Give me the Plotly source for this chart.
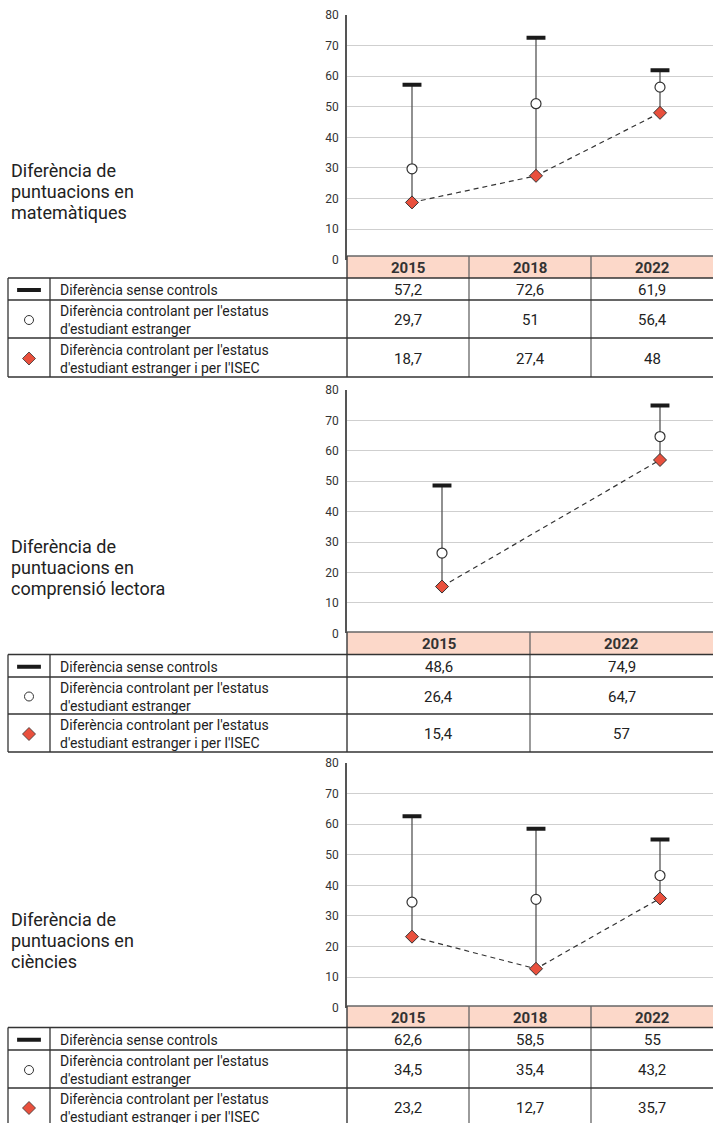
import plotly.graph_objects as go

W, H = 713, 1123

# ---------------- data ----------------
math_years = ["2015", "2018", "2022"]
math_no_controls = [57.2, 72.6, 61.9]
math_foreign = [29.7, 51, 56.4]
math_foreign_isec = [18.7, 27.4, 48]

read_years = ["2015", "2022"]
read_no_controls = [48.6, 74.9]
read_foreign = [26.4, 64.7]
read_foreign_isec = [15.4, 57]

sci_years = ["2015", "2018", "2022"]
sci_no_controls = [62.6, 58.5, 55]
sci_foreign = [34.5, 35.4, 43.2]
sci_foreign_isec = [23.2, 12.7, 35.7]

series_labels = [
    "Diferència sense controls",
    "Diferència controlant per l'estatus<br>d'estudiant estranger",
    "Diferència controlant per l'estatus<br>d'estudiant estranger i per l'ISEC",
]
panel_titles = [
    ["Diferència de", "puntuacions en", "matemàtiques"],
    ["Diferència de", "puntuacions en", "comprensió lectora"],
    ["Diferència de", "puntuacions en", "ciències"],
]
y_ticks = [0, 10, 20, 30, 40, 50, 60, 70, 80]

# ---------------- layout constants (pixels) ----------------
FONT = "Roboto, 'Open Sans', sans-serif"
RED = "#e9503d"
PINK = "#fcd8c9"
DARK = "#333333"
AX_L = 347      # left edge of the chart / value columns
TBL_L = 8       # left edge of table
SYM_R = 50      # right edge of symbol column
SYM_X = 29
LBL_X = 58

PANELS = [
    dict(years=math_years, vals=(math_no_controls, math_foreign, math_foreign_isec),
         y80=15, y0=259.6, head=(256, 278), rows=(278, 300, 338, 377),
         pts=(412, 660), title_y=(171, 192, 213), title=panel_titles[0]),
    dict(years=read_years, vals=(read_no_controls, read_foreign, read_foreign_isec),
         y80=390, y0=633.4, head=(632, 654.5), rows=(654.5, 677, 714, 752),
         pts=(442, 660), title_y=(546, 567, 588), title=panel_titles[1]),
    dict(years=sci_years, vals=(sci_no_controls, sci_foreign, sci_foreign_isec),
         y80=763, y0=1007.6, head=(1006, 1027.5), rows=(1027.5, 1050, 1088, 1126),
         pts=(412, 660), title_y=(919, 940, 961), title=panel_titles[2]),
]


def px(x):
    return x / W


def py(y):
    return 1 - y / H


def fmt(v):
    return f"{v:g}".replace(".", ",")


fig = go.Figure()
shapes = []
annotations = []

for i, p in enumerate(PANELS, start=1):
    xa = "x" if i == 1 else f"x{i}"
    ya = "y" if i == 1 else f"y{i}"
    years = p["years"]
    raw, foreign, isec = p["vals"]
    n = len(years)
    first, last = p["pts"]
    unit = (last - first) / (n - 1)
    xr = [(AX_L - first) / unit, (n - 1) + (W - last) / unit]

    # connectors from raw difference down to ISEC-controlled difference
    cx, cy = [], []
    for yr, a, b in zip(years, raw, isec):
        cx += [yr, yr, None]
        cy += [a, b, None]
    fig.add_trace(go.Scatter(x=cx, y=cy, mode="lines", xaxis=xa, yaxis=ya,
                             line=dict(color="#555555", width=1.3),
                             hoverinfo="skip", showlegend=False))
    fig.add_trace(go.Scatter(x=years, y=isec, mode="lines", xaxis=xa, yaxis=ya,
                             line=dict(color=DARK, width=1.2, dash="5px,4px"),
                             hoverinfo="skip", showlegend=False))
    fig.add_trace(go.Scatter(x=years, y=raw, mode="markers", xaxis=xa, yaxis=ya,
                             marker=dict(symbol="line-ew", size=13.5,
                                         line=dict(color="#1a1a1a", width=4)),
                             name=series_labels[0], showlegend=False))
    fig.add_trace(go.Scatter(x=years, y=foreign, mode="markers", xaxis=xa, yaxis=ya,
                             marker=dict(symbol="circle", size=10, color="white",
                                         line=dict(color=DARK, width=1.2)),
                             name=series_labels[1], showlegend=False))
    fig.add_trace(go.Scatter(x=years, y=isec, mode="markers", xaxis=xa, yaxis=ya,
                             marker=dict(symbol="diamond", size=10, color=RED,
                                         line=dict(color=DARK, width=1)),
                             name=series_labels[2], showlegend=False))

    fig.layout[f"xaxis{'' if i == 1 else i}"] = dict(
        type="category", categoryorder="array", categoryarray=years,
        range=xr, domain=[px(AX_L), 1], anchor=ya, visible=False, fixedrange=True,
        automargin=False)
    fig.layout[f"yaxis{'' if i == 1 else i}"] = dict(
        range=[0, 80], domain=[py(p["y0"]), py(p["y80"])], anchor=xa,
        tickvals=y_ticks, showgrid=True, gridcolor="#cfcfcf", gridwidth=1.3,
        zeroline=False, showline=True, linecolor="#555555", linewidth=1.5,
        ticks="", tickfont=dict(family=FONT, size=12, color="#333333"),
        ticklabelstandoff=4, fixedrange=True, automargin=False)

    # ---- table ----
    h0, h1 = p["head"]
    r = p["rows"]
    colw = (W - AX_L) / n
    shapes.append(dict(type="rect", xref="paper", yref="paper",
                       x0=px(AX_L), x1=px(W), y0=py(h1), y1=py(h0),
                       fillcolor=PINK, line=dict(width=0), layer="above"))
    shapes.append(dict(type="line", xref="paper", yref="paper",
                       x0=px(AX_L), x1=px(W), y0=py(h0), y1=py(h0),
                       line=dict(color="#666666", width=1.3), layer="above"))
    for k in range(1, n):
        xk = AX_L + k * colw
        shapes.append(dict(type="line", xref="paper", yref="paper",
                           x0=px(xk), x1=px(xk), y0=py(h0), y1=py(r[3]),
                           line=dict(color="#666666", width=1.3), layer="above"))
    for xk in (TBL_L, SYM_R):
        shapes.append(dict(type="line", xref="paper", yref="paper",
                           x0=px(xk), x1=px(xk), y0=py(r[0]), y1=py(r[3]),
                           line=dict(color=DARK, width=1.3), layer="above"))
    shapes.append(dict(type="line", xref="paper", yref="paper",
                       x0=px(AX_L), x1=px(AX_L), y0=py(h0), y1=py(r[3]),
                       line=dict(color="#444444", width=1.5), layer="above"))
    for yk in r:
        shapes.append(dict(type="line", xref="paper", yref="paper",
                           x0=px(TBL_L), x1=px(W), y0=py(yk), y1=py(yk),
                           line=dict(color=DARK, width=1.6), layer="above"))

    for k, yr in enumerate(years):
        cxk = AX_L + (k + 0.5) * colw
        annotations.append(dict(xref="paper", yref="paper", x=px(cxk), y=py((h0 + h1) / 2 + 1),
                                text=f"<b>{yr}</b>", showarrow=False,
                                font=dict(family=FONT, size=15, color=DARK),
                                xanchor="center", yanchor="middle"))
        for s, series in enumerate(p["vals"]):
            annotations.append(dict(xref="paper", yref="paper", x=px(cxk),
                                    y=py((r[s] + r[s + 1]) / 2 + 1),
                                    text=fmt(series[k]), showarrow=False,
                                    font=dict(family=FONT, size=15, color="#222222"),
                                    xanchor="center", yanchor="middle"))
    for s, lbl in enumerate(series_labels):
        annotations.append(dict(xref="paper", yref="paper", x=px(LBL_X),
                                y=py((r[s] + r[s + 1]) / 2 + 1),
                                text=lbl, showarrow=False, align="left",
                                font=dict(family=FONT, size=14, color="#222222"),
                                xanchor="left", yanchor="middle"))
    # table legend symbols (in a pixel-space overlay axis)
    sym_y = [(r[s] + r[s + 1]) / 2 + 1 for s in range(3)]
    fig.add_trace(go.Scatter(x=[SYM_X], y=[sym_y[0]], mode="markers", xaxis="x4", yaxis="y4",
                             marker=dict(symbol="line-ew", size=17,
                                         line=dict(color="#1a1a1a", width=4)),
                             hoverinfo="skip", showlegend=False))
    fig.add_trace(go.Scatter(x=[SYM_X], y=[sym_y[1]], mode="markers", xaxis="x4", yaxis="y4",
                             marker=dict(symbol="circle", size=9, color="white",
                                         line=dict(color=DARK, width=1)),
                             hoverinfo="skip", showlegend=False))
    fig.add_trace(go.Scatter(x=[SYM_X], y=[sym_y[2]], mode="markers", xaxis="x4", yaxis="y4",
                             marker=dict(symbol="diamond", size=10, color=RED,
                                         line=dict(color=DARK, width=0.8)),
                             hoverinfo="skip", showlegend=False))

    # panel title
    for line_txt, ty in zip(p["title"], p["title_y"]):
        annotations.append(dict(xref="paper", yref="paper", x=px(9), y=py(ty),
                                text=line_txt, showarrow=False, align="left",
                                font=dict(family=FONT, size=18, color="#222222"),
                                xanchor="left", yanchor="middle"))

fig.update_layout(
    width=W, height=H,
    margin=dict(l=0, r=0, t=0, b=0, pad=0, autoexpand=False),
    paper_bgcolor="white", plot_bgcolor="rgba(0,0,0,0)",
    showlegend=False,
    xaxis4=dict(domain=[0, 1], range=[0, W], visible=False, fixedrange=True,
                anchor="y4", automargin=False),
    yaxis4=dict(domain=[0, 1], range=[H, 0], visible=False, fixedrange=True,
                anchor="x4", automargin=False),
    shapes=shapes, annotations=annotations,
)

fig.write_html("out.html",
               config={"displayModeBar": False},
               post_script="document.body.style.margin='0px';"
                           "document.body.style.overflow='hidden';")
